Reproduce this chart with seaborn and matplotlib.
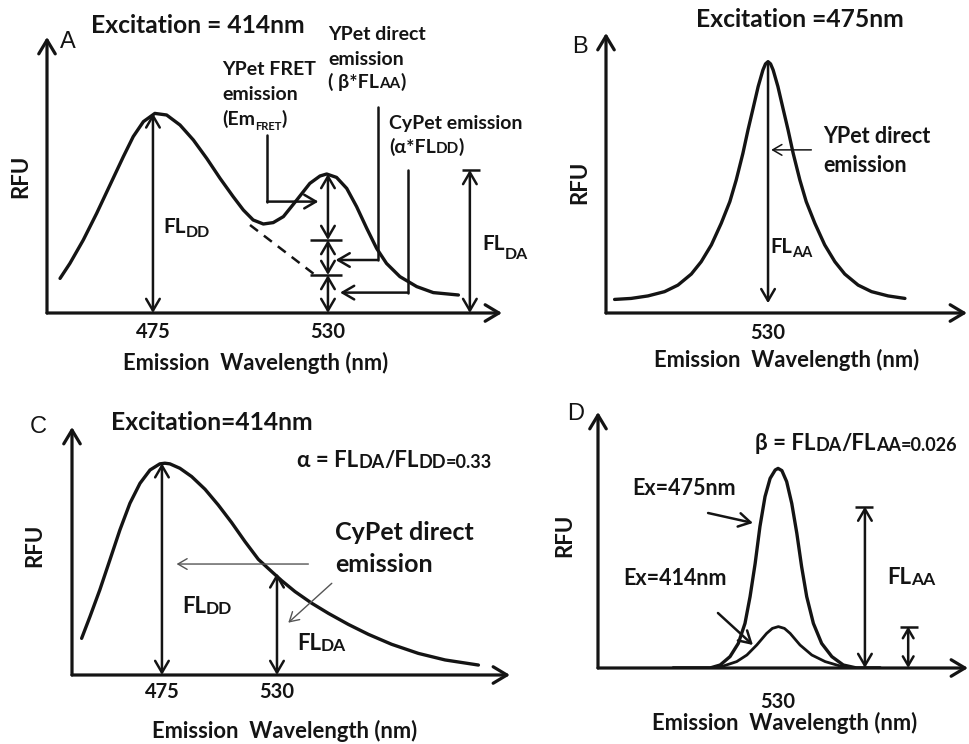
import matplotlib
matplotlib.use("Agg")
import matplotlib.pyplot as plt
import seaborn as sns

# ---------------- data ----------------
# Panel A: excitation 414 nm, CyPet + YPet emission
a_wavelength = [445.8, 448.9, 453.1, 457.3, 461.5, 465.7, 468.8, 472.0, 475.6, 479.3,
                483.5, 487.7, 491.9, 496.1, 500.2, 503.4, 506.5, 509.7, 512.8, 516.0,
                520.2, 524.3, 527.5, 529.6, 532.7, 535.9, 539.0, 542.2, 545.3, 548.4,
                552.6, 557.9, 563.1, 571.0]
a_rfu = [17.3, 24.8, 36.5, 49.8, 64.0, 78.2, 88.2, 95.7, 99.8, 99.0,
         94.0, 86.5, 77.3, 67.3, 58.2, 51.5, 46.5, 44.5, 45.2, 48.2,
         56.5, 64.8, 68.5, 69.5, 67.8, 62.3, 53.2, 42.3, 32.3, 24.8,
         18.2, 13.2, 10.2, 9.0]
a_cypet_tail_wavelength = [505.5, 526.0]
a_cypet_tail_rfu = [44.0, 19.0]
a_split_levels = [0.0, 19.0, 36.5, 69.5]   # CyPet / YPet direct / FRET at 530 nm
a_fl_da = 71.5
a_ticks = [475, 530]
a_ticklabels = ["475", "530"]

# Panel B: excitation 475 nm, YPet direct emission
b_wavelength = [481.8, 487.0, 492.3, 497.5, 501.7, 505.9, 509.0, 512.2, 515.3, 518.0,
                520.0, 522.1, 523.7, 525.3, 526.9, 528.4, 529.2, 530.0, 530.8, 531.6,
                533.1, 534.7, 536.3, 537.9, 540.0, 542.0, 544.7, 547.8, 551.0, 554.1,
                558.3, 562.5, 567.7, 573.0]
b_rfu = [5.4, 5.8, 6.8, 8.5, 11.1, 15.5, 20.4, 27.1, 35.7, 44.3,
         52.9, 63.5, 72.8, 81.4, 90.1, 96.7, 99.1, 100.0, 99.1, 96.7,
         90.1, 81.4, 72.8, 63.5, 52.9, 44.3, 35.7, 27.1, 20.4, 15.5,
         11.1, 8.5, 6.8, 5.8]
b_ticks = [530]
b_ticklabels = ["530"]

# Panel C: excitation 414 nm, CyPet alone
c_wavelength = [436.6, 440.6, 445.3, 450.1, 454.9, 459.7, 464.5, 469.3, 474.0, 476.4,
                478.8, 483.6, 489.2, 495.6, 501.9, 508.3, 514.7, 521.1, 527.5, 532.2,
                538.6, 546.6, 554.6, 564.1, 573.7, 584.8, 597.6, 610.4, 626.3]
c_rfu = [17.3, 27.6, 40.2, 54.3, 68.5, 81.1, 90.5, 96.8, 99.7, 100.0,
         99.7, 97.6, 93.7, 87.7, 80.3, 72.0, 63.0, 54.6, 48.8, 44.6,
         39.4, 33.9, 29.1, 23.9, 19.2, 14.5, 10.2, 7.1, 4.7]
c_fl_da = 48.0
c_ticks = [475, 530]
c_ticklabels = ["475", "530"]

# Panel D: YPet alone, two excitations
d475_wavelength = [497.0, 505.5, 508.6, 511.8, 514.9, 517.5, 519.6, 521.2, 522.8, 524.3,
                   525.9, 527.5, 529.1, 530.0, 531.2, 532.7, 534.3, 535.9, 537.4, 539.0,
                   541.1, 543.7, 546.9, 550.5, 554.7, 562.1]
d475_rfu = [0.0, 0.0, 0.0, 1.5, 5.7, 12.3, 22.3, 35.7, 52.3, 70.7,
            85.7, 94.8, 99.0, 99.8, 98.7, 93.2, 82.3, 67.3, 50.7, 35.7,
            22.3, 12.3, 5.7, 1.5, 0.0, 0.0]
d414_wavelength = [497.0, 505.5, 508.6, 512.8, 517.0, 520.2, 523.3, 526.4, 528.2, 530.1,
                   532.0, 533.8, 536.9, 540.6, 544.8, 549.5, 554.7, 562.1]
d414_rfu = [0.0, 0.0, 0.0, 1.0, 3.2, 6.5, 11.5, 17.3, 19.8, 20.7,
            19.8, 17.3, 11.5, 6.5, 3.2, 1.0, 0.0, 0.0]
d_fl_aa = 80.7
d_ticks = [530]
d_ticklabels = ["530"]

# ---------------- styling ----------------
sns.set_theme(style="white")
FAM = ["Lato", "DejaVu Sans"]
LETTER = ["Liberation Sans", "DejaVu Sans"]
plt.rcParams["font.family"] = FAM
INK = "#141414"
W, H = 969, 744

fig = plt.figure(figsize=(W / 100, H / 100), dpi=100)
fig.patch.set_facecolor("white")

# overlay in pixel coordinates for annotation text
ov = fig.add_axes([0, 0, 1, 1], zorder=10)
ov.set_xlim(0, W)
ov.set_ylim(H, 0)
ov.set_axis_off()
ov.patch.set_visible(False)


def label(x, y, s, size, ha="left", weight="bold", family=None):
    return ov.text(x, y, s, fontsize=size, ha=ha, va="baseline", fontweight=weight,
                   color=INK, family=family or FAM)


def rich(x, y, parts):
    first = label(x, y, parts[0][0], parts[0][1])
    prev = first
    for s, size, rise in parts[1:]:
        prev = ov.annotate(s, xy=(1, 0), xycoords=(prev, first), xytext=(0, rise),
                           textcoords="offset points", fontsize=size, fontweight="bold",
                           color=INK, family=FAM, ha="left", va="bottom",
                           annotation_clip=False)
    return first


def panel(left, top, right, bottom, xlim, ylim, ticks, ticklabels, pad,
          xlab_xy, ylab_xy):
    ax = fig.add_axes([left / W, 1 - bottom / H, (right - left) / W, (bottom - top) / H])
    ax.set_xlim(*xlim)
    ax.set_ylim(*ylim)
    sns.despine(ax=ax, left=True, bottom=True)
    ax.set_facecolor("none")
    ax.grid(False)
    ax.set_yticks([])
    ax.set_xticks(ticks)
    ax.set_xticklabels(ticklabels, fontsize=14.5, fontweight="bold", color=INK)
    ax.tick_params(axis="x", length=0, pad=pad)
    head = "->,head_length=0.55,head_width=0.33"
    for end in [(1, 0), (0, 1)]:
        ax.annotate("", xy=end, xytext=(0, 0), xycoords="axes fraction",
                    textcoords="axes fraction",
                    arrowprops=dict(arrowstyle=head, lw=2.3, color=INK, shrinkA=0,
                                    shrinkB=0, mutation_scale=18),
                    annotation_clip=False)
    ax.set_xlabel("Emission  Wavelength (nm)", fontsize=15.8, fontweight="bold",
                  color=INK, va="baseline", ha="center")
    ax.xaxis.set_label_coords(*xlab_xy, transform=ov.transData)
    ax.set_ylabel("RFU", fontsize=16, fontweight="bold", color=INK,
                  va="center", ha="center")
    ax.yaxis.set_label_coords(*ylab_xy, transform=ov.transData)
    return ax


def arrow(ax, x0, y0, x1, y1, style="->", lw=1.8, color=INK, ms=14):
    ax.annotate("", xy=(x1, y1), xytext=(x0, y0),
                arrowprops=dict(arrowstyle=f"{style},head_length=0.6,head_width=0.35",
                                lw=lw, color=color, shrinkA=0, shrinkB=0,
                                mutation_scale=ms),
                annotation_clip=False)


def curve(ax, x, y, lw=2.4, **kw):
    sns.lineplot(x=x, y=y, ax=ax, color=INK, linewidth=lw, estimator=None, sort=False,
                 solid_capstyle="round", solid_joinstyle="round", **kw)


# ---------------- Panel A ----------------
axA = panel(47, 37, 502, 313, (441.7, 584.7), (0, 138), a_ticks, a_ticklabels, 6.5,
            (256, 370), (21, 176))
curve(axA, a_wavelength, a_rfu)
sns.lineplot(x=a_cypet_tail_wavelength, y=a_cypet_tail_rfu, ax=axA, color=INK,
             linewidth=1.8, linestyle=(0, (4, 3)), estimator=None)
arrow(axA, 475, 0, 475, max(a_rfu), "<->")
for lo, hi in zip(a_split_levels[:-1], a_split_levels[1:]):
    arrow(axA, 530, lo, 530, hi, "<->")
axA.hlines(a_split_levels[1:3], 524.3, 534.3, colors=INK, lw=1.8)
arrow(axA, 574.6, 0, 574.6, a_fl_da, "<->")
axA.hlines([a_fl_da], 572.0, 577.8, colors=INK, lw=1.8)
# L-shaped pointers
axA.plot([510.9, 510.9], [89.0, 55.7], color=INK, lw=1.8)
arrow(axA, 510.9, 55.7, 527.0, 55.7)
axA.plot([545.6, 545.6], [103.0, 26.5], color=INK, lw=1.8)
arrow(axA, 545.6, 26.5, 532.4, 26.5)
axA.plot([555.2, 555.2], [71.5, 10.2], color=INK, lw=1.8)
arrow(axA, 555.2, 10.2, 533.8, 10.2)

label(198, 33, "Excitation = 414nm", 17.7, ha="center")
label(60, 48, "A", 17, weight="normal", family=LETTER)
label(222, 75, "YPet FRET", 14)
label(222, 100, "emission", 14)
rich(222, 125, [("(Em", 14, 0), ("FRET", 8, -2.5), (")", 14, 0)])
label(328, 40, "YPet direct", 14)
label(328, 65, "emission", 14)
rich(328, 88, [("( β*FL", 14, 0), ("AA", 11, 0), (")", 14, 0)])
label(389, 129, "CyPet emission", 14)
rich(389, 153, [("(α*FL", 14, 0), ("DD", 11, 0), (")", 14, 0)])
rich(163, 233, [("FL", 15, 0), ("DD", 11.5, -2.5)])
rich(482, 250, [("FL", 15, 0), ("DA", 11.5, -5.5)])

# ---------------- Panel B ----------------
axB = panel(606, 33, 967, 313, (479.1, 592.5), (0, 111.4), b_ticks, b_ticklabels, 7,
            (787, 367), (580, 182))
curve(axB, b_wavelength, b_rfu)
arrow(axB, 530, max(b_rfu), 530, 3.9)
arrow(axB, 543.6, 64.9, 531.0, 64.9, lw=1.1, ms=11)
label(800, 27, "Excitation =475nm", 17.7, ha="center")
label(572, 53, "B", 17, weight="normal", family=LETTER)
label(823, 143, "YPet direct", 15.5)
label(823, 172, "emission", 15.5)
rich(770, 253, [("FL", 14.5, 0), ("AA", 10.5, -2.5)])

# ---------------- Panel C ----------------
axC = panel(72, 427, 510, 675, (432.0, 641.4), (0, 117.1), c_ticks, c_ticklabels, 5,
            (285, 738), (35, 545))
curve(axC, c_wavelength, c_rfu)
arrow(axC, 475, 0, 475, max(c_rfu), "<->")
arrow(axC, 530, 0, 530, c_fl_da, "<->")
arrow(axC, 545.0, 52.4, 482.0, 52.4, lw=1.0, color="#555555", ms=11)
arrow(axC, 556.2, 43.3, 535.4, 24.7, lw=1.0, color="#555555", ms=11)
label(212, 430, "Excitation=414nm", 17.7, ha="center")
label(30, 433, "C", 17, weight="normal", family=LETTER)
rich(297, 467, [("α = FL", 16, 0), ("DA", 13, 0), ("/FL", 16, 0), ("DD", 13, 0),
                ("=0.33", 13, 0)])
label(335, 540, "CyPet direct", 18)
label(335, 572, "emission", 18)
rich(182, 613, [("FL", 16, 0), ("DD", 12.5, 0)])
rich(297, 650, [("FL", 16, 0), ("DA", 12.5, 0)])

# ---------------- Panel D ----------------
axD = panel(598, 412, 968, 668, (473.4, 589.7), (0, 128), d_ticks, d_ticklabels, 17,
            (785, 730), (565, 535))
curve(axD, d475_wavelength, d475_rfu)
curve(axD, d414_wavelength, d414_rfu, lw=2.0)
arrow(axD, 557.3, 0, 557.3, d_fl_aa, "<->")
axD.hlines([d_fl_aa], 554.2, 559.9, colors=INK, lw=1.8)
arrow(axD, 570.9, 0, 570.9, max(d414_rfu), "<->", ms=11)
axD.hlines([max(d414_rfu)], 568.3, 574.0, colors=INK, lw=1.8)
arrow(axD, 508.0, 77.5, 522.1, 72.5)
arrow(axD, 511.1, 27.5, 522.1, 11.5)
rich(755, 450, [("β = FL", 16, 0), ("DA", 13, 0), ("/FL", 16, 0), ("AA", 13, 0),
                ("=0.026", 13, 0)])
label(567, 420, "D", 17, weight="normal", family=LETTER)
label(632, 495, "Ex=475nm", 15.5)
label(623, 585, "Ex=414nm", 15.5)
rich(887, 584, [("FL", 16, 0), ("AA", 12.5, 0)])

fig.savefig("out.png", dpi=100, facecolor="white")
